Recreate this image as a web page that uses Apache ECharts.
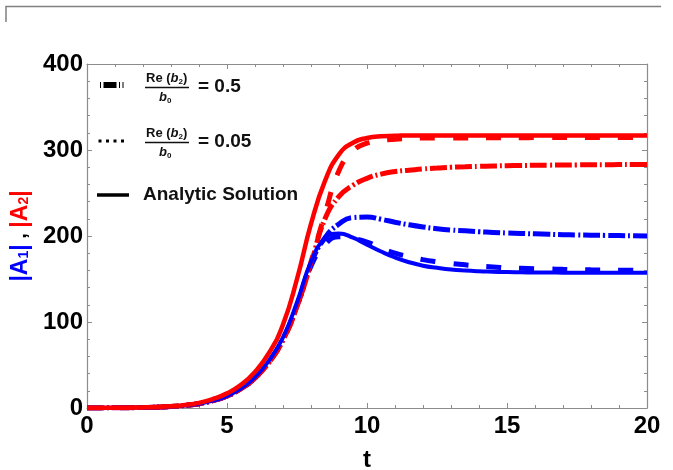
<!DOCTYPE html>
<html><head><meta charset="utf-8">
<script src="https://cdn.jsdelivr.net/npm/echarts@6/dist/echarts.min.js"></script>
<style>html,body{margin:0;padding:0;background:#fff}#c{width:673px;height:470px}</style>
</head><body><div id="c"></div>
<script>
// time samples
const tValues = [0,0.5,1,1.5,2,2.5,3,3.5,4,4.5,5,5.5,6,6.5,7,7.5,8,8.5,9,9.5,10,10.5,11,11.5,12,12.5,13,13.5,14,14.5,15,15.5,16,16.5,17,17.5,18,18.5,19,19.5,20];
// |A2| analytic (red solid)
const a2Analytic = [0.1,0.15,0.25,0.4,0.7,1.2,2,3.5,6,10.5,17,27,42,64,97,150,214,264,295,308.5,314,316,316.5,317,317,317,317,317,317,317,317,317,317,317,317,317,317,317,317,317,317];
// |A2| Re(b2)/b0 = 0.05 (red dashed)
const a2Small = [0.1,0.12,0.2,0.35,0.6,1,1.8,3,5,8.5,14,22.5,35,53,79,118,170,226,276,299,308,311,312.5,313.5,314,314,314,314,314.2,314.2,314.3,314.3,314.4,314.4,314.4,314.5,314.5,314.5,314.5,314.5,314.5];
// |A2| Re(b2)/b0 = 0.5 (red dash-dot)
const a2Large = [0.1,0.12,0.2,0.35,0.6,1,1.8,3,5,8.5,14,22.5,35,53,79,118,168,220,246,259,267,272,275,276.5,278,279,280,280.5,281,281.4,281.7,282,282.2,282.4,282.5,282.7,282.8,282.9,283,283,283];
// |A1| analytic (blue solid)
const a1Analytic = [0.1,0.12,0.2,0.35,0.6,1,1.8,3,5,8.5,14,23,36,55,82,123,170,197,203,198,190,182,175,169.5,165.5,163,161,159.8,159,158.5,158,157.8,157.6,157.5,157.4,157.3,157.3,157.3,157.3,157.3,157.3];
// |A1| Re(b2)/b0 = 0.05 (blue dashed)
const a1Small = [0.1,0.12,0.2,0.35,0.6,1,1.8,3,5,8.5,14,22.5,35,54,80,119,165,190,199,197,193,186,180,176,172.5,170,168,166.5,165,164,163,162.5,162,161.6,161.2,161,160.7,160.5,160.3,160.1,160];
// |A1| Re(b2)/b0 = 0.5 (blue dash-dot)
const a1Large = [0.1,0.12,0.2,0.35,0.6,1,1.8,3,5,8.5,14,22.5,35,54,80,119,168,198,214,221.5,222,219.5,216,213,210.5,208.5,207,206,205,204.2,203.5,203,202.5,202,201.5,201.2,201,200.7,200.5,200.2,200];
// tick labels
const xTicks = [0,5,10,15,20];
const yTicks = [0,100,200,300,400];

const RED = '#ff0000', BLUE = '#0000ff';
const pairs = arr => tValues.map((t,i)=>[t,arr[i]]);
function line(name, arr, color, type, width, z){
  return {name, type:'line', data:pairs(arr), showSymbol:false, smooth:0.5, z,
    lineStyle:{color, width, type}, emphasis:{disabled:true}, animation:false};
}
const DASH = [15,18], DASHDOT = [17,3,2,3];

const chart = echarts.init(document.getElementById('c'), null, {renderer:'canvas'});
const axisGray = '#8c8c8c';
const legFont = 'Liberation Sans, Arial, sans-serif';
const labelStyle = {color:'#000', fontSize:24, fontWeight:'bold', fontFamily:legFont};

function frac(x, y, rhs){
  return [
    {type:'text', left:x, top:y-14, style:{text:'{n|Re (}{i|b}{s|2}{n|)}',
      rich:{n:{fontSize:13,fontWeight:'bold',fontFamily:legFont,fill:'#111',height:14},
            i:{fontSize:13,fontWeight:'bold',fontStyle:'italic',fontFamily:legFont,fill:'#111',height:14},
            s:{fontSize:8,fontWeight:'bold',fontFamily:legFont,fill:'#111',height:14,verticalAlign:'bottom',padding:[6,0,0,0]}}}},
    {type:'line', shape:{x1:x-1, y1:y+1.5, x2:x+43, y2:y+1.5}, style:{stroke:'#111', lineWidth:1.5}},
    {type:'text', left:x+13, top:y+5, style:{text:'{i|b}{s|0}',
      rich:{i:{fontSize:13,fontWeight:'bold',fontStyle:'italic',fontFamily:legFont,fill:'#111',height:14},
            s:{fontSize:8,fontWeight:'bold',fontFamily:legFont,fill:'#111',height:14,verticalAlign:'bottom',padding:[6,0,0,0]}}}},
    {type:'text', left:x+52, top:y-9, style:{text:rhs, fontSize:19, fontWeight:'bold', fontFamily:legFont, fill:'#111'}}
  ];
}

chart.setOption({
  animation:false,
  backgroundColor:'#fff',
  grid:{left:87, right:26, top:64, bottom:62, containLabel:false, outerBoundsMode:'none'},
  xAxis:[{type:'value', min:0, max:20, interval:5,
    name:'t', nameLocation:'middle', nameGap:40,
    nameTextStyle:{color:'#000', fontSize:24, fontWeight:'bold', fontFamily:legFont},
    axisLine:{show:true, onZero:false, lineStyle:{color:axisGray, width:1.2}},
    axisTick:{show:true, inside:true, length:5, lineStyle:{color:axisGray}},
    minorTick:{show:true, splitNumber:5, length:3, lineStyle:{color:axisGray}},
    splitLine:{show:false},
    axisLabel:Object.assign({margin:6, formatter:v=>xTicks.includes(v)?String(v):''}, labelStyle)},
   {type:'value', position:'top', min:0, max:20, interval:5,
    axisLine:{show:true, onZero:false, lineStyle:{color:axisGray, width:1.2}},
    axisTick:{show:true, inside:true, length:5, lineStyle:{color:axisGray}},
    minorTick:{show:true, splitNumber:5, length:3, lineStyle:{color:axisGray}},
    splitLine:{show:false}, axisLabel:{show:false}}],
  yAxis:[{type:'value', min:0, max:400, interval:100,
    name:'{b||A}{bs|1}{b||}{k| , }{r||A}{rs|2}{r||}', nameLocation:'middle', nameGap:46, nameRotate:90,
    nameTextStyle:{rich:{
      b:{color:BLUE, fontSize:23, fontWeight:'bold', fontFamily:legFont, height:26},
      bs:{color:BLUE, fontSize:14, fontWeight:'bold', fontFamily:legFont, height:26, verticalAlign:'bottom', padding:[8,0,0,0]},
      k:{color:'#000', fontSize:20, fontWeight:'bold', fontFamily:legFont, height:26},
      r:{color:RED, fontSize:23, fontWeight:'bold', fontFamily:legFont, height:26},
      rs:{color:RED, fontSize:14, fontWeight:'bold', fontFamily:legFont, height:26, verticalAlign:'bottom', padding:[8,0,0,0]}}},
    axisLine:{show:true, onZero:false, lineStyle:{color:axisGray, width:1.2}},
    axisTick:{show:true, inside:true, length:5, lineStyle:{color:axisGray}},
    minorTick:{show:true, splitNumber:5, length:3, lineStyle:{color:axisGray}},
    splitLine:{show:false},
    axisLabel:Object.assign({margin:4, formatter:v=>yTicks.includes(v)?String(v):''}, labelStyle)},
   {type:'value', position:'right', min:0, max:400, interval:100,
    axisLine:{show:true, onZero:false, lineStyle:{color:axisGray, width:1.2}},
    axisTick:{show:true, inside:true, length:5, lineStyle:{color:axisGray}},
    minorTick:{show:true, splitNumber:5, length:3, lineStyle:{color:axisGray}},
    splitLine:{show:false}, axisLabel:{show:false}}],
  series:[
    line('A1 0.5', a1Large, BLUE, DASHDOT, 5, 2),
    line('A2 0.5', a2Large, RED, DASHDOT, 5, 2),
    line('A1 0.05', a1Small, BLUE, DASH, 5, 3),
    line('A2 0.05', a2Small, RED, DASH, 5, 3),
    line('A1 analytic', a1Analytic, BLUE, 'solid', 4, 4),
    line('A2 analytic', a2Analytic, RED, 'solid', 4.5, 4)
  ],
  graphic:[
    {type:'polyline', shape:{points:[[6,22],[6,6.5],[661,6.5]]}, style:{stroke:'#808080', lineWidth:1.5, fill:null}, silent:true},
    {type:'line', shape:{x1:100, y1:85, x2:126, y2:85}, style:{stroke:'#000', lineWidth:6, lineDash:[1,2.5,13,2.5,1,2.5,1,10]}},
    ...frac(146, 86, '= 0.5'),
    {type:'line', shape:{x1:98.5, y1:141, x2:127, y2:141}, style:{stroke:'#000', lineWidth:3, lineDash:[3,4.5]}},
    ...frac(146, 141, '= 0.05'),
    {type:'line', shape:{x1:97, y1:195, x2:129, y2:195}, style:{stroke:'#000', lineWidth:3.5}},
    {type:'text', left:143, top:185, style:{text:'Analytic Solution', fontSize:19, fontWeight:'bold', fontFamily:legFont, fill:'#111'}}
  ]
});
</script></body></html>
